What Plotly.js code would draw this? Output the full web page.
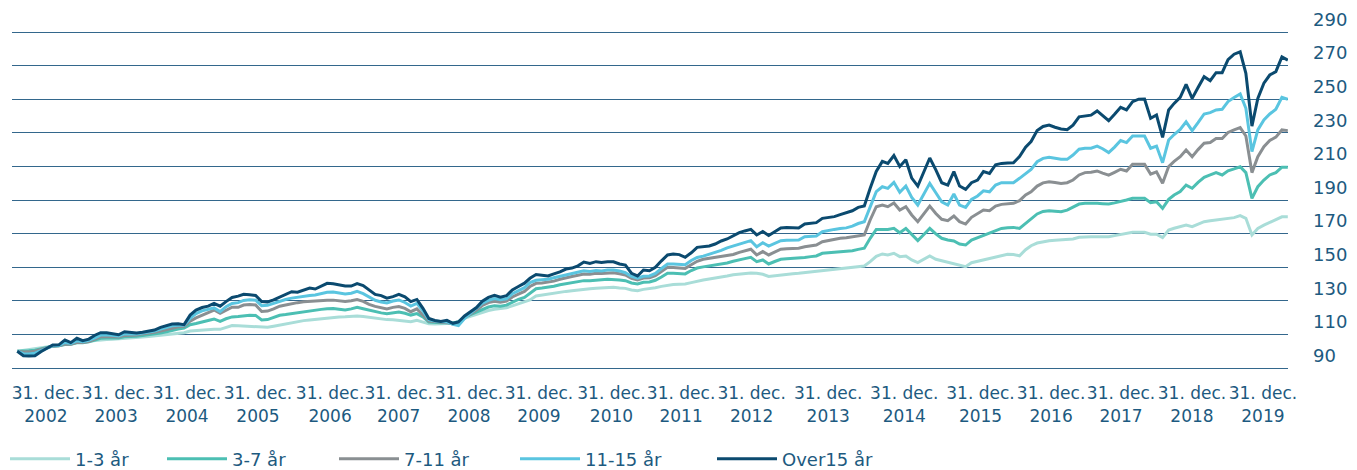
<!DOCTYPE html>
<html>
<head>
<meta charset="utf-8">
<script src="https://cdn.plot.ly/plotly-3.0.1.min.js"></script>
<style>
  html, body { margin: 0; padding: 0; background: #ffffff; }
  #chart { width: 1357px; height: 470px; }
</style>
</head>
<body>
<div id="chart"></div>
<script>
// ---- DATA (monthly index values, end of month, Dec 2002 = first point) ----
const firstYear = 2002;
const firstMonth = 12;          // December
const monthCount = 214;         // Dec 2002 .. Sep 2020

const seriesNames = ['1-3 år', '3-7 år', '7-11 år', '11-15 år', 'Over15 år'];

const yr1to3 = [
  100, 100.5, 100.9, 101.3, 101.8, 102.4, 103.2, 103.7, 104.2, 104.6,
  105.3, 105.7, 106.1, 106.5, 106.8, 107, 107.1, 107.3, 107.6, 107.8,
  108, 108.4, 108.8, 109.2, 109.5, 110, 110.5, 110.8, 111, 112,
  112.3, 112.5, 112.8, 113.1, 113, 114, 115.3, 115.2, 115, 114.7,
  114.6, 114, 114.2, 114.9, 115.6, 116.2, 117, 117.8, 118.2, 118.6,
  119, 119.4, 119.9, 120.2, 120.4, 120.5, 120.7, 121, 120.6, 120.1,
  119.6, 119.1, 118.8, 118.7, 118.4, 118, 117.6, 118.4, 117.5, 116.3,
  116.2, 116.2, 116.2, 116.6, 117.4, 119.6, 120.8, 122, 123.2, 124.2,
  125, 125.4, 125.9, 127, 128.2, 129.3, 130.5, 132.9, 133.5, 133.9,
  134.3, 134.9, 135.6, 136, 136.5, 137, 137.2, 137.5, 137.7, 138,
  138, 137.6, 137.4, 136.4, 136, 136.8, 137.1, 137.8, 138.6, 139.4,
  139.7, 139.9, 140, 140.8, 141.8, 142.4, 143, 143.5, 144, 144.8,
  145.5, 146, 146.3, 146.6, 146.4, 145.8, 144.5, 145, 145.5, 145.8,
  146.1, 146.4, 146.8, 147.2, 147.6, 148.2, 148.5, 148.9, 149.2, 149.6,
  150, 150.4, 150.7, 153.3, 156.5, 157.9, 157.3, 158.3, 156.3, 156.7,
  154.3, 152.7, 154.7, 156.7, 154.7, 153.8, 153.3, 152, 151.2, 150.3,
  152.7, 153.5, 154.6, 155.5, 156.2, 157, 157.7, 157.6, 156.8, 160.4,
  162.8, 164.4, 165.3, 165.8, 166, 166.2, 166.4, 166.8, 167.8, 168.2,
  168.2, 168.2, 168.2, 168.2, 168.8, 169.6, 170.2, 170.8, 170.8, 170.8,
  169.6, 169.6, 167.6, 172.1, 173.2, 174.1, 175.1, 174.1, 175.8, 177.1,
  177.6, 178.1, 178.5, 179, 179.5, 180.7, 179.1, 169.2, 173.1, 175,
  176.5, 178.1, 180, 180
];

const yr3to7 = [
  100, 100, 100.2, 100.6, 101.4, 102.2, 103, 103.3, 104, 104.1,
  105, 105.1, 105.6, 106.7, 107.7, 107.9, 107.8, 107.9, 108.6, 108.7,
  108.9, 109.4, 109.8, 110.2, 110.8, 111.6, 112.5, 113.2, 113.8, 115.8,
  116.5, 117.2, 118.3, 119.2, 117.8, 119.3, 120.4, 120.6, 121.1, 121.4,
  121.3, 118.6, 118.8, 120, 121.4, 121.8, 122.4, 123, 123.6, 124,
  124.4, 124.9, 125.3, 125.4, 125, 124.6, 125.2, 126.2, 125.3, 124.4,
  123.6, 122.8, 122.3, 123, 123.3, 122.6, 121.5, 122.4, 120.4, 117.3,
  117, 117, 117, 116.8, 117.5, 120.2, 121.8, 123.3, 125, 126.3,
  127, 126.8, 127.4, 129.3, 130.8, 132, 134.5, 137.2, 137.6, 138,
  138.7, 139.6, 140.3, 140.8, 141.4, 142, 141.9, 142.4, 142.5, 142.8,
  142.8, 142.4, 142, 140.6, 140, 141, 141.2, 142.2, 144.2, 146.4,
  146.4, 146.2, 146, 148, 149.5, 150.2, 150.7, 151.2, 151.8, 152.5,
  153.5, 154.5, 155.1, 155.9, 153.3, 154.3, 151.9, 153.4, 154.7, 155,
  155.2, 155.3, 155.8, 156.3, 156.7, 158.3, 158.6, 158.9, 159.1, 159.3,
  159.8, 160.6, 161.3, 167.2, 172.5, 172.5, 172.5, 173.2, 170.5, 173.1,
  169.8, 165.8, 169.5, 173.1, 169.8, 167.2, 166.2, 165.6, 163.8, 163.2,
  166.2, 167.5, 169.2, 170.2, 171.7, 173.1, 173.5, 173.7, 173.1, 176.1,
  179, 181.7, 183.2, 183.6, 183.3, 183, 184, 185.6, 187.6, 188,
  188.2, 188, 187.8, 187.6, 188.3, 189, 190, 191, 191, 191,
  188.4, 189, 185, 190.4, 193, 195, 198.9, 197, 200.5, 203.5,
  204.9, 206.3, 204.9, 207.4, 208.5, 209.8, 206.3, 191, 197.9, 201.9,
  204.9, 206.3, 209.5, 209.5
];

const yr7to11 = [
  100, 99.5, 99.6, 100, 101, 102, 103, 103.3, 104.3, 104.2,
  105.3, 105.2, 105.8, 107.2, 108.6, 108.8, 108.5, 108.5, 109.4, 109.5,
  109.6, 110.3, 110.7, 111.2, 112, 112.9, 113.9, 114.5, 114.8, 117.9,
  119.8, 121.5, 123.3, 124.5, 122.6, 124.2, 126.2, 126.1, 127.5, 127.8,
  127.5, 123.6, 123.9, 125.2, 126.8, 127.5, 128.3, 128.9, 129.4, 129.7,
  129.9, 130.2, 130.4, 130.4, 130, 129.6, 130, 130.7, 129.7, 127.9,
  126.7, 125.8, 125.2, 126.1, 126.6, 125.5, 123.5, 125.2, 121.7, 118,
  117.6, 117.4, 117, 116.2, 116.3, 119.8, 122, 124.5, 127.2, 128.9,
  129.7, 129.2, 129.8, 132.3, 134, 135.6, 138.5, 140.4, 140.6, 141,
  141.7, 142.8, 143.8, 144.5, 145.2, 146, 145.8, 146.4, 146.3, 146.7,
  146.7, 146.1, 145.4, 143.3, 142.4, 143.5, 143.7, 145, 147.5, 149.9,
  149.8, 149.6, 149.3, 151.5, 153.5, 154.7, 155.2, 155.8, 156.4, 156.9,
  157.6, 158.8, 159.8, 160.7, 157.3, 159.3, 157.3, 159, 160.7, 161,
  161.2, 161.3, 162.2, 162.8, 163.2, 165.2, 166, 166.6, 167.2, 167.6,
  168.2, 168.8, 169.2, 178.1, 186, 187, 186, 188.2, 184, 186,
  181.1, 177.1, 181.8, 186.4, 182, 178.5, 177.7, 180.5, 177.1, 175.7,
  179.7, 181.7, 184, 183.6, 186.4, 187.4, 187.7, 188, 189.6, 193,
  194.9, 198.3, 200.2, 200.9, 200.4, 199.9, 200.3, 201.9, 204.9, 206.3,
  206.5, 207.3, 206, 204.8, 206.5, 208.3, 207.3, 211.3, 211.3, 211.3,
  205.4, 206.8, 200, 209.9, 213, 215.8, 219.8, 215.8, 220, 223.8,
  224.2, 226.6, 226.6, 230.2, 231.8, 233.1, 228.1, 206.3, 215.8, 221.7,
  225.4, 227.4, 231.7, 231.3
];

const yr11to15 = [
  100, 98.5, 98.3, 98.8, 100.3, 101.6, 103.2, 103.4, 105.2, 104.6,
  106.2, 105.7, 106.5, 108, 109.6, 109.8, 109.3, 109.1, 110.3, 110.2,
  110.2, 110.8, 111.4, 112, 113.2, 114.1, 115.1, 115.5, 115.4, 119.5,
  122.4, 124, 125, 125.8, 123.6, 126.5, 128.4, 128.9, 130.2, 130.6,
  130.4, 127.1, 127.3, 128.5, 130, 130.8, 131.6, 132.2, 132.7, 133.2,
  133.5, 134.3, 135.1, 135.2, 134.6, 134.1, 134.5, 135.6, 134.3, 132.2,
  130.3, 129.3, 128.7, 129.9, 130.5, 129, 126.9, 128.5, 124, 118.8,
  118, 117.7, 117.4, 116, 115.3, 119.5, 122.5, 125.5, 128.6, 130.3,
  131.4, 130.6, 131.2, 134.2, 136, 137.8, 140.8, 142.2, 142.5, 142.8,
  143.7, 144.6, 145.6, 146.3, 147, 147.9, 147.5, 148, 147.8, 148.3,
  148.3, 147.8, 146.7, 144.5, 143.4, 144.6, 144.8, 146.3, 149.2, 151.9,
  151.9, 151.7, 151.5, 154, 155.8, 156.6, 157.6, 158.8, 160, 161.5,
  162.5, 163.5, 164.6, 165.8, 162.2, 164.6, 162.6, 164.2, 165.8, 166,
  166.1, 166.2, 168.2, 168.4, 168.6, 171.1, 172, 172.5, 173, 173.4,
  174.4, 176, 177.1, 186, 195, 197.9, 196.9, 200.5, 194.6, 198.3,
  191.6, 187, 193.5, 199.9, 194.3, 188.9, 187, 193.6, 187, 185.6,
  190.4, 192.4, 195.5, 194.9, 198.9, 200.3, 200.3, 200.3, 202.9, 205.8,
  208.2, 212.8, 214.8, 215.4, 214.6, 214.2, 214.2, 216.8, 220.2, 220.8,
  220.8, 222.1, 220.5, 218.2, 221.5, 225.4, 224.2, 228.1, 228.1, 228.1,
  220.8, 222.1, 212.2, 225.7, 229, 232, 236.5, 231.3, 236, 241.2,
  242, 243.6, 244, 248.6, 251, 253.1, 244.6, 218.8, 231.7, 237.6,
  241.2, 244, 251.1, 249.9
];

const over15 = [
  100, 97.3, 97.1, 97.3, 99.7, 101.5, 103.7, 103.8, 106.7, 105.1,
  107.7, 106.3, 107.2, 109.5, 111, 111, 110.3, 109.8, 111.6, 111.2,
  110.8, 111.3, 111.8, 112.6, 114.2, 115.2, 116.2, 116.3, 115.8, 121.5,
  124.5, 126, 126.8, 128.5, 126.8, 129.5, 132, 132.8, 133.9, 133.6,
  133.2, 129.5, 129.3, 130.5, 132.3, 133.6, 135.4, 135.1, 136.4, 137.6,
  137, 138.7, 140.4, 140.1, 139.3, 138.8, 138.8, 140.2, 139.1, 136.5,
  133.8, 133.1, 131.6, 132.5, 133.8, 132.4, 129.5, 130.8, 125.5, 119.5,
  118.3, 117.7, 118.4, 116.6, 117.4, 121, 123.5, 126, 129.8, 132,
  133.2, 132.1, 133, 136.5, 138.5, 140.5, 143.4, 145.6, 145.2, 144.8,
  146, 147.2, 148.9, 149.5, 150.8, 153.1, 152.3, 153.3, 152.8, 153.3,
  153.2, 151.9, 151.3, 146.4, 144.8, 148.3, 147.9, 149.9, 153.8, 157.3,
  157.9, 157.5, 155.9, 158.6, 161.8, 162.4, 162.6, 163.8, 165.6, 166.8,
  168.5, 170.6, 171.6, 172.5, 169.2, 171.3, 168.9, 171, 173.3, 173.7,
  173.5, 173.3, 175.7, 176.2, 176.5, 179.1, 179.7, 180.1, 181.3, 182.6,
  183.6, 185.6, 186.4, 197, 207, 213, 211.8, 216.5, 210, 214,
  203, 198.3, 207, 215, 207.9, 200.3, 198.9, 206.9, 198.3, 196.3,
  200.3, 201.9, 206.9, 205.8, 211, 211.8, 212, 212.2, 215.8, 221.4,
  224.8, 231.3, 233.8, 234.6, 233.3, 232.3, 231.8, 234.5, 239.5, 240,
  240.5, 243, 240, 237.2, 241, 245.2, 243.6, 248.5, 250, 250.1,
  238.6, 240.6, 227.3, 243.6, 247.5, 251.1, 258.8, 250.5, 257, 263.4,
  261, 265.8, 265.8, 273.6, 276.8, 278.2, 265.4, 234, 250.5, 259.5,
  264.4, 266.4, 275.2, 273.2
];

// x-axis tick labels
const tickYears = ['2002','2003','2004','2005','2006','2007','2008','2009','2010',
                   '2011','2012','2013','2014','2015','2016','2017','2018','2019'];
const tickPrefix = '31. dec.';
const yTicks = [90, 110, 130, 150, 170, 190, 210, 230, 250, 270, 290];

// ---- LAYOUT / STYLE ----
const tickDates = ['2003-05-26','2004-05-18','2005-05-15','2006-05-12','2007-05-15',
                   '2008-04-29','2009-04-23','2010-04-15','2011-04-20','2012-04-09',
                   '2013-04-04','2014-04-30','2015-05-23','2016-06-15','2017-06-10',
                   '2018-06-02','2019-05-30','2020-05-26'];

const colors = ['#a9ddd8', '#4cbfb3', '#8a8f92', '#5ac5e0', '#0b4a6f'];
const textColor = '#1d5a80';
const gridColor = '#33678c';
const fontFam = '"DejaVu Sans", sans-serif';

// month-end dates
const dates = [];
for (let i = 0; i < monthCount; i++) {
  const d = new Date(Date.UTC(firstYear, firstMonth - 1 + i + 1, 0));
  dates.push(d.toISOString().slice(0, 10));
}

const seriesValues = [yr1to3, yr3to7, yr7to11, yr11to15, over15];
const legendIds = ['legend', 'legend2', 'legend3', 'legend4', 'legend5'];
// legend box left edges (px)
const legendPx = [5, 162, 334, 515, 712];

const plotLeft = 12, plotRight = 1288, plotTop = 31, plotBottom = 368;
const plotW = plotRight - plotLeft, plotH = plotBottom - plotTop;

const traces = seriesValues.map((vals, i) => ({
  type: 'scatter',
  mode: 'lines',
  x: dates,
  y: vals,
  name: seriesNames[i],
  legend: legendIds[i],
  line: { color: colors[i], width: 3, shape: 'linear' },
  hoverinfo: 'skip'
}));

const layout = {
  width: 1357,
  height: 470,
  margin: { l: plotLeft, r: 1357 - plotRight, t: plotTop, b: 470 - plotBottom, pad: 0, autoexpand: false },
  paper_bgcolor: '#ffffff',
  plot_bgcolor: '#ffffff',
  font: { family: fontFam, size: 17, color: textColor },
  showlegend: true,
  xaxis: {
    type: 'date',
    range: ['2002-12-04', '2020-10-01'],
    automargin: false,
    showgrid: false,
    zeroline: false,
    showline: true,
    linecolor: gridColor,
    linewidth: 1,
    ticks: '',
    tickangle: 0,
    tickmode: 'array',
    tickvals: tickDates,
    ticktext: tickYears.map(y => tickPrefix + '<br>' + y),
    tickfont: { family: fontFam, size: 17, color: textColor },
    ticklabelstandoff: 10,
    fixedrange: true
  },
  yaxis: {
    side: 'right',
    range: [90, 290.6],
    automargin: false,
    tickmode: 'array',
    tickvals: yTicks,
    ticktext: yTicks.map(String),
    showgrid: true,
    gridcolor: gridColor,
    gridwidth: 1,
    zeroline: false,
    showline: false,
    ticks: '',
    ticklabelposition: 'outside top',
    ticklabelstandoff: 24,
    tickfont: { family: fontFam, size: 18, color: textColor },
    fixedrange: true
  }
};

legendIds.forEach((id, i) => {
  layout[id] = {
    orientation: 'h',
    x: (legendPx[i] - plotLeft) / plotW,
    xanchor: 'left',
    y: -(459 - plotBottom) / plotH,
    yanchor: 'middle',
    bgcolor: 'rgba(0,0,0,0)',
    borderwidth: 0,
    itemwidth: 60,
    font: { family: fontFam, size: 18, color: textColor },
    itemclick: false,
    itemdoubleclick: false
  };
});

Plotly.newPlot('chart', traces, layout, { displayModeBar: false, staticPlot: true });
</script>
</body>
</html>
